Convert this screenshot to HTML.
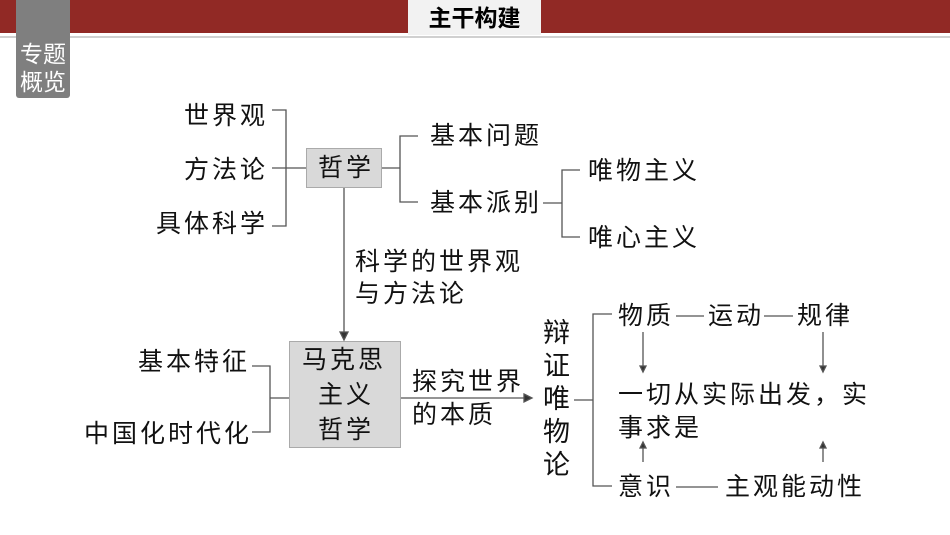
<!DOCTYPE html>
<html><head><meta charset="utf-8"><style>
body{margin:0;width:950px;height:535px;position:relative;background:#fff;overflow:hidden;font-family:"Liberation Sans","Noto Sans CJK SC",sans-serif;}
.t{position:absolute;font-size:25px;line-height:28px;color:#111;white-space:nowrap;letter-spacing:3px}
</style></head><body>
<div style="position:absolute;left:0;top:0;width:950px;height:33px;background:#912925"></div>
<div style="position:absolute;left:0;top:36px;width:950px;height:2px;background:#d0d0d0"></div>
<div style="position:absolute;left:408px;top:0;width:133px;height:35px;background:#f2f2f2;font-size:23px;font-weight:bold;line-height:36px;text-align:center;color:#000">主干构建</div>
<div style="position:absolute;left:16px;top:0;width:54px;height:98px;background:#7f7f7f;border-radius:0 0 3px 3px;color:#fff;font-size:23px;line-height:28px;text-align:center;padding-top:40px;box-sizing:border-box">专题<br>概览</div>
<div style="position:absolute;left:306px;top:148px;width:76px;height:40px;background:#d9d9d9;border:1px solid #aaa;box-sizing:border-box"></div>
<div style="position:absolute;left:289px;top:341px;width:112px;height:107px;background:#d9d9d9;border:1px solid #aaa;box-sizing:border-box"></div>
<svg width="950" height="535" style="position:absolute;left:0;top:0" fill="none" stroke="#555" stroke-width="1.3">
<path d="M272 110H286V226H272M272 168H306"/>
<path d="M382 168H400M418 136H400V202H418"/>
<path d="M543 203H562M580 170H562V237H580"/>
<path d="M344 188V334"/><path d="M340 332L344 340L348 332Z" fill="#333"/>
<path d="M252 366H270V432H252M270 398H289"/>
<path d="M401 398H526"/><path d="M524 394L532 398L524 402Z" fill="#333"/>
<path d="M574 400H593M612 314H593V486H612"/>
<path d="M676 316H704M764 316H793M676 487H718"/>
<path d="M643 332V368M823 332V368M643 462V446M823 462V446"/>
<path d="M640 366L643 372L646 366ZM820 366L823 372L826 366ZM640 448L643 442L646 448ZM820 448L823 442L826 448Z" fill="#333"/>
</svg>
<div class="t" style="left:184px;top:102px">世界观</div>
<div class="t" style="left:184px;top:156px">方法论</div>
<div class="t" style="left:156px;top:210px">具体科学</div>
<div class="t" style="left:318px;top:154px">哲学</div>
<div class="t" style="left:430px;top:122px">基本问题</div>
<div class="t" style="left:430px;top:189px">基本派别</div>
<div class="t" style="left:588px;top:157px">唯物主义</div>
<div class="t" style="left:588px;top:224px">唯心主义</div>
<div class="t" style="left:355px;top:248px">科学的世界观</div>
<div class="t" style="left:355px;top:280px">与方法论</div>
<div class="t" style="left:138px;top:348px">基本特征</div>
<div class="t" style="left:84px;top:420px">中国化时代化</div>
<div class="t" style="left:302px;top:346px">马克思</div>
<div class="t" style="left:318px;top:381px">主义</div>
<div class="t" style="left:318px;top:416px">哲学</div>
<div class="t" style="left:412px;top:368px">探究世界</div>
<div class="t" style="left:412px;top:401px">的本质</div>
<div class="t" style="left:543px;top:317px;line-height:33px;font-size:27px">辩<br>证<br>唯<br>物<br>论</div>
<div class="t" style="left:618px;top:302px">物质</div>
<div class="t" style="left:708px;top:302px">运动</div>
<div class="t" style="left:797px;top:302px">规律</div>
<div class="t" style="left:618px;top:381px">一切从实际出发，实</div>
<div class="t" style="left:618px;top:414px">事求是</div>
<div class="t" style="left:618px;top:473px">意识</div>
<div class="t" style="left:725px;top:473px">主观能动性</div>
</body></html>
